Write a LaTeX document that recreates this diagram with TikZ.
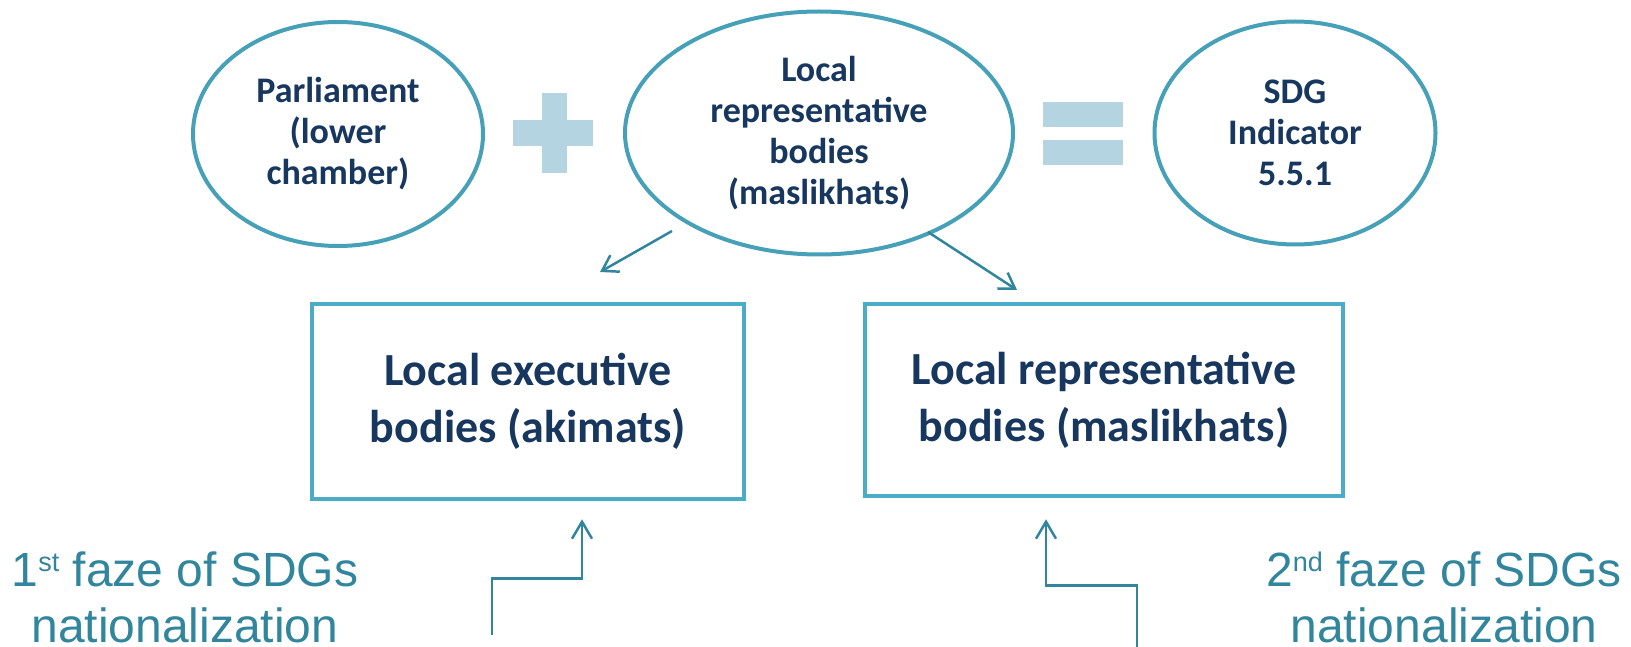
\documentclass[tikz,border=0pt]{standalone}
\usepackage{fontspec}
\setmainfont{Carlito}
\newfontfamily\arialf{Liberation Sans}
\usetikzlibrary{shapes.geometric,arrows.meta,calc}
\definecolor{ellline}{HTML}{46A0B8}
\definecolor{boxline}{HTML}{4BACC6}
\definecolor{arrowc}{HTML}{31859C}
\definecolor{signc}{HTML}{B3D4E0}
\definecolor{navy}{HTML}{17375E}
\definecolor{tealtext}{HTML}{31859C}
\newcommand\myss[1]{\raisebox{15pt}{\fontsize{27}{27}\selectfont #1}}
\begin{document}
\begin{tikzpicture}[x=1pt,y=-1pt,
  ell/.style={ellipse, draw=ellline, line width=4pt, inner sep=0pt, align=center,
    text=navy, font=\bfseries\fontsize{36}{41}\selectfont},
  bodybox/.style={rectangle, draw=boxline, line width=4.5pt, inner sep=0pt, align=center,
    text=navy, font=\bfseries\fontsize{46}{57}\selectfont},
  conn/.style={draw=arrowc, line width=2.5pt, -{Straight Barb[length=15pt,width=19pt]}},
  connb/.style={draw=arrowc, line width=2.5pt, -{Straight Barb[length=17pt,width=20pt]}},
  phase/.style={align=center, inner sep=0pt, text=tealtext,
    font=\arialf\fontsize{48}{56}\selectfont},
  sign/.style={fill=signc, draw=none}]
\useasboundingbox (0,0) rectangle (1631,647);

% ellipses
\node[ell, minimum width=290pt, minimum height=224pt] (parl) at (338,134) {Parliament\\(lower\\chamber)};
\node[ell, minimum width=388pt, minimum height=243pt] (rep) at (819,133) {Local\\representative\\bodies\\(maslikhats)};
\node[ell, minimum width=281pt, minimum height=223pt] (sdg) at (1295,133) {SDG\\Indicator\\5.5.1};

% plus sign
\fill[sign] (513,120) rectangle (593,146);
\fill[sign] (542,93) rectangle (567,173);
% equals sign
\fill[sign] (1043,102) rectangle (1123,127);
\fill[sign] (1043,140) rectangle (1123,165);

% boxes
\node[bodybox, minimum width=432pt, minimum height=195pt] (akim) at (528,401.5) {Local executive\\bodies (akimats)};
\node[bodybox, minimum width=478pt, minimum height=192pt] (masl) at (1104,400) {Local representative\\bodies (maslikhats)};

% arrows from the middle ellipse
\coordinate (la0) at ($(rep.center)+(-147,98)$);
\coordinate (la1) at ($(rep.center)+(-219,139)$);
\coordinate (ra0) at ($(rep.center)+(109,99)$);
\coordinate (ra1) at ($(rep.center)+(198,157)$);
\draw[conn] (la0) -- (la1);
\draw[conn] (ra0) -- (ra1);

% stepped arrows from below
\coordinate (t1) at ($(akim.south)+(54,18)$);
\coordinate (s1) at (492,635);
\draw[connb] (s1) |- ($(t1)+(0,59)$) -- (t1);
\coordinate (t2) at ($(masl.south)+(-58,21)$);
\coordinate (s2) at (1137,647);
\draw[connb] (s2) |- ($(t2)+(0,66)$) -- (t2);

% phase texts
\node[phase, anchor=north] (ph1) at (185,552) {1\myss{st} faze of SDGs\\nationalization};
\node[phase, anchor=north] (ph2) at (1444,552) {2\myss{nd} faze of SDGs\\nationalization};
\end{tikzpicture}
\end{document}
